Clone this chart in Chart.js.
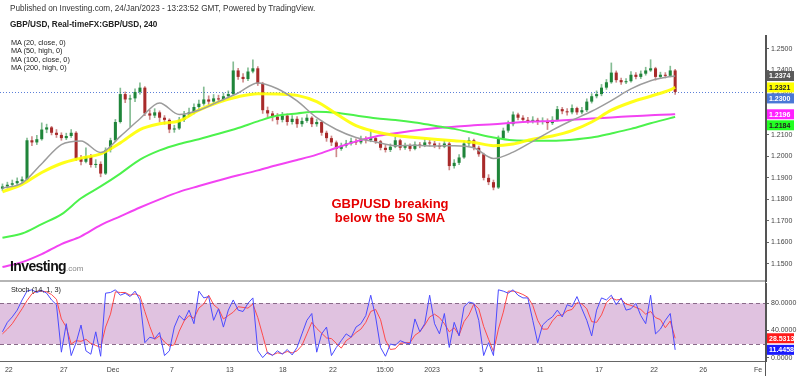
<!DOCTYPE html>
<html>
<head>
<meta charset="utf-8">
<script src="https://cdn.jsdelivr.net/npm/chart.js@4.4.1/dist/chart.umd.min.js"></script>
<style>
  body { margin: 0; width: 800px; height: 376px; position: relative; background: #fff; overflow: hidden;
         font-family: Arial, 'Liberation Sans', sans-serif; }
  .box { position: absolute; left: 0; width: 800px; }
  .txt { position: absolute; white-space: nowrap; z-index: 5; }
</style>
</head>
<body>
<div class="box" style="top:0;height:282px"><canvas id="priceChart"></canvas></div>
<div class="box" style="top:281px;height:95px"><canvas id="stochChart"></canvas></div>
<div style="position:absolute;left:0;top:280px;width:766px;height:2px;background:#b5b5b5;z-index:4"></div>
<div style="position:absolute;left:765px;top:35px;width:1px;height:341px;background:#555;z-index:4"></div>

<div class="txt" style="left:10px;top:4px;font-size:8.2px;color:#333">Published on Investing.com, 24/Jan/2023 - 13:23:52 GMT, Powered by TradingView.</div>
<div class="txt" style="left:10px;top:20px;font-size:8.2px;font-weight:bold;color:#222">GBP/USD, Real-timeFX:GBP/USD, 240</div>
<div class="txt" style="left:11px;top:39px;font-size:7.3px;line-height:8.3px;color:#222">MA (20, close, 0)<br>MA (50, high, 0)<br>MA (100, close, 0)<br>MA (200, high, 0)</div>
<div class="txt" style="left:290px;top:197px;width:200px;text-align:center;font-size:13px;line-height:14px;font-weight:bold;color:#e50000">GBP/USD breaking<br>below the 50 SMA</div>
<div class="txt" style="left:10px;top:258px;font-size:14px;font-weight:bold;letter-spacing:-0.6px;color:#111">Investing<span style="font-size:8px;font-weight:normal;color:#888;letter-spacing:0">.com</span></div>
<div class="txt" style="left:11px;top:285px;font-size:7.3px;color:#222">Stoch (14, 1, 3)</div>

<script>
// 4h candles (bar index 0 .. 137), opens follow the previous close
const firstOpen = 1.1850;
const closes = [
  1.1860, 1.1868, 1.1875, 1.1885, 1.1893, 1.2075, 1.2065, 1.2080, 1.2125, 1.2135,
  1.2110, 1.2100, 1.2085, 1.2095, 1.2110, 1.1990, 1.1975, 1.2000, 1.1960, 1.1965,
  1.1920, 1.2030, 1.2075, 1.2160, 1.2290, 1.2265, 1.2270, 1.2300, 1.2320, 1.2200,
  1.2190, 1.2205, 1.2180, 1.2170, 1.2125, 1.2130, 1.2170, 1.2195, 1.2205, 1.2230,
  1.2245, 1.2265, 1.2255, 1.2270, 1.2265, 1.2280, 1.2290, 1.2400, 1.2370, 1.2360,
  1.2395, 1.2410, 1.2340, 1.2215, 1.2200, 1.2185, 1.2170, 1.2190, 1.2160, 1.2175,
  1.2150, 1.2165, 1.2180, 1.2150, 1.2160, 1.2110, 1.2085, 1.2065, 1.2035, 1.2050,
  1.2060, 1.2070, 1.2065, 1.2080, 1.2075, 1.2085, 1.2070, 1.2040, 1.2030, 1.2045,
  1.2075, 1.2040, 1.2050, 1.2035, 1.2055, 1.2050, 1.2065, 1.2060, 1.2050, 1.2045,
  1.2060, 1.1955, 1.1970, 1.1995, 1.2060, 1.2075, 1.2040, 1.2010, 1.1900, 1.1880,
  1.1855, 1.2085, 1.2120, 1.2150, 1.2195, 1.2180, 1.2170, 1.2165, 1.2170, 1.2160,
  1.2165, 1.2155, 1.2170, 1.2220, 1.2210, 1.2205, 1.2225, 1.2205, 1.2215, 1.2255,
  1.2280, 1.2290, 1.2320, 1.2345, 1.2390, 1.2355, 1.2345, 1.2350, 1.2380, 1.2370,
  1.2385, 1.2400, 1.2410, 1.2370, 1.2380, 1.2375, 1.2400, 1.2300
];
const highs = [
  1.1872, 1.1880, 1.1890, 1.1900, 1.1905, 1.2085, 1.2092, 1.2098, 1.2156, 1.2150,
  1.2140, 1.2125, 1.2110, 1.2108, 1.2125, 1.2115, 1.2005, 1.2040, 1.2010, 1.1985,
  1.1975, 1.2040, 1.2085, 1.2172, 1.2318, 1.2300, 1.2285, 1.2315, 1.2342, 1.2325,
  1.2215, 1.2222, 1.2212, 1.2190, 1.2175, 1.2145, 1.2182, 1.2210, 1.2225, 1.2245,
  1.2262, 1.2323, 1.2282, 1.2288, 1.2285, 1.2295, 1.2305, 1.2440, 1.2410, 1.2385,
  1.2412, 1.2450, 1.2418, 1.2345, 1.2230, 1.2210, 1.2200, 1.2205, 1.2198, 1.2190,
  1.2185, 1.2180, 1.2195, 1.2185, 1.2172, 1.2165, 1.2118, 1.2095, 1.2072, 1.2062,
  1.2075, 1.2085, 1.2082, 1.2095, 1.2092, 1.2123, 1.2092, 1.2075, 1.2052, 1.2058,
  1.2090, 1.2080, 1.2062, 1.2058, 1.2068, 1.2065, 1.2078, 1.2075, 1.2070, 1.2062,
  1.2075, 1.2065, 1.1985, 1.2008, 1.2072, 1.2088, 1.2080, 1.2048, 1.2015, 1.1915,
  1.1890, 1.2095, 1.2132, 1.2165, 1.2207, 1.2202, 1.2190, 1.2182, 1.2185, 1.2178,
  1.2180, 1.2175, 1.2185, 1.2233, 1.2228, 1.2222, 1.2240, 1.2230, 1.2228, 1.2268,
  1.2292, 1.2305, 1.2335, 1.2358, 1.2435, 1.2398, 1.2365, 1.2362, 1.2395, 1.2390,
  1.2398, 1.2415, 1.2450, 1.2415, 1.2392, 1.2390, 1.2420, 1.2405
];
const lows = [
  1.1840, 1.1852, 1.1860, 1.1868, 1.1878, 1.1890, 1.2050, 1.2055, 1.2075, 1.2110,
  1.2100, 1.2088, 1.2075, 1.2078, 1.2088, 1.1980, 1.1960, 1.1970, 1.1950, 1.1948,
  1.1905, 1.1915, 1.2020, 1.2068, 1.2155, 1.2250, 1.2137, 1.2255, 1.2290, 1.2190,
  1.2172, 1.2180, 1.2160, 1.2150, 1.2110, 1.2112, 1.2125, 1.2162, 1.2185, 1.2198,
  1.2220, 1.2238, 1.2240, 1.2245, 1.2250, 1.2258, 1.2270, 1.2285, 1.2358, 1.2345,
  1.2352, 1.2388, 1.2330, 1.2200, 1.2185, 1.2165, 1.2150, 1.2160, 1.2145, 1.2150,
  1.2135, 1.2140, 1.2158, 1.2138, 1.2140, 1.2098, 1.2070, 1.2050, 1.1998, 1.2028,
  1.2042, 1.2052, 1.2055, 1.2058, 1.2062, 1.2068, 1.2060, 1.2030, 1.2020, 1.2022,
  1.2040, 1.2030, 1.2032, 1.2025, 1.2030, 1.2040, 1.2045, 1.2048, 1.2040, 1.2035,
  1.2040, 1.1937, 1.1945, 1.1962, 1.1990, 1.2050, 1.2030, 1.2000, 1.1890, 1.1868,
  1.1844, 1.1850, 1.2078, 1.2112, 1.2142, 1.2170, 1.2158, 1.2155, 1.2155, 1.2148,
  1.2150, 1.2125, 1.2148, 1.2165, 1.2198, 1.2192, 1.2198, 1.2195, 1.2198, 1.2208,
  1.2248, 1.2272, 1.2282, 1.2312, 1.2340, 1.2345, 1.2335, 1.2338, 1.2345, 1.2360,
  1.2362, 1.2378, 1.2395, 1.2355, 1.2362, 1.2365, 1.2370, 1.2288
];

// moving averages, read every 4 bars
const maIndex = [0, 4, 8, 12, 16, 20, 24, 28, 32, 36, 40, 44, 48, 52, 56, 60, 64, 68,
  72, 76, 80, 84, 88, 92, 96, 100, 104, 108, 112, 116, 120, 124, 128, 132, 136, 137];
const ma20 = [1.1852, 1.1876, 1.1966, 1.2055, 1.2072, 1.2018, 1.2093, 1.2175, 1.2249, 1.2195,
  1.2215, 1.2255, 1.2295, 1.2342, 1.2315, 1.2258, 1.2180, 1.2125, 1.2088, 1.2067,
  1.2050, 1.2052, 1.2048, 1.2050, 1.2040, 1.1990, 1.2020, 1.2070, 1.2122, 1.2168,
  1.2210, 1.2260, 1.2314, 1.2352, 1.2372, 1.2374];
const ma50 = [1.1835, 1.1870, 1.1925, 1.1967, 1.1992, 1.2012, 1.2063, 1.2125, 1.2152, 1.2165,
  1.2215, 1.2252, 1.2278, 1.2292, 1.2290, 1.2284, 1.2255, 1.2198, 1.2143, 1.2115,
  1.2097, 1.2088, 1.2080, 1.2073, 1.2065, 1.2050, 1.2058, 1.2080, 1.2095, 1.2120,
  1.2160, 1.2215, 1.2252, 1.2280, 1.2310, 1.2321];
const ma100 = [1.1621, 1.1641, 1.1685, 1.1730, 1.1805, 1.1860, 1.1920, 1.1985, 1.2028, 1.2058,
  1.2080, 1.2105, 1.2132, 1.2163, 1.2190, 1.2200, 1.2208, 1.2203, 1.2190, 1.2177,
  1.2169, 1.2158, 1.2143, 1.2128, 1.2108, 1.2088, 1.2075, 1.2073, 1.2073, 1.2078,
  1.2088, 1.2107, 1.2128, 1.2154, 1.2178, 1.2184];
const ma200 = [1.1485, 1.1508, 1.1545, 1.1592, 1.1628, 1.1680, 1.1721, 1.1762, 1.1800, 1.1835,
  1.1862, 1.1888, 1.1912, 1.1935, 1.1960, 1.1983, 1.2008, 1.2040, 1.2070, 1.2093,
  1.2108, 1.2121, 1.2131, 1.2138, 1.2145, 1.2150, 1.2157, 1.2162, 1.2165, 1.2171,
  1.2176, 1.2181, 1.2187, 1.2192, 1.2195, 1.2196];

// Stochastic (14, 1, 3)
const stochK = [
  38, 52, 60, 70, 85, 98, 100, 96, 99, 95,
  85, 78, 8, 50, 3, 22, 48, 10, 5, 38,
  2, 95, 96, 100, 92, 95, 90, 98, 85, 22,
  30, 28, 37, 3, 10, 45, 62, 55, 70, 50,
  98, 88, 90, 55, 72, 45, 70, 85, 70, 68,
  80, 88, 10, 0, 8, 3, 10, 5, 12, 4,
  15, 35, 55, 65, 8, 35, 45, 3, 15, 25,
  35, 30, 45, 50, 62, 92, 60, 15, 2, 20,
  18, 25, 22, 20, 57, 38, 50, 92, 50, 35,
  65, 15, 52, 32, 75, 82, 80, 55, 3, 22,
  3, 100, 98, 95, 100, 92, 88, 88, 55, 22,
  48, 55, 60, 70, 60, 78, 75, 90, 72, 55,
  32, 70, 88, 85, 92, 78, 88, 70, 72, 80,
  62, 50, 92, 35, 42, 55, 65, 11.4458
];
const stochD = [
  35, 42, 50, 61, 72, 84, 94, 98, 98, 97,
  93, 86, 57, 45, 20, 25, 24, 27, 21, 18,
  15, 45, 64, 97, 96, 96, 92, 94, 91, 68,
  46, 27, 32, 23, 17, 19, 39, 54, 62, 58,
  73, 79, 92, 78, 72, 57, 62, 67, 75, 74,
  73, 79, 59, 33, 6, 4, 7, 6, 9, 7,
  10, 18, 35, 52, 43, 36, 29, 28, 21, 14,
  25, 30, 37, 42, 52, 68, 71, 56, 26, 12,
  13, 21, 22, 22, 33, 38, 48, 60, 64, 59,
  50, 38, 44, 33, 53, 63, 79, 72, 46, 27,
  9, 42, 67, 98, 98, 96, 93, 89, 77, 55,
  42, 42, 54, 62, 63, 69, 71, 81, 79, 72,
  53, 52, 63, 81, 88, 85, 86, 79, 77, 74,
  71, 64, 68, 59, 56, 44, 54, 28.5313
];

// axes
const priceTicks = [1.15, 1.16, 1.17, 1.18, 1.19, 1.20, 1.21, 1.22, 1.23, 1.24, 1.25];
const stochTicks = [0, 40, 80];
const timeTicks = [1.3, 12.5, 22.5, 34.5, 46.3, 57.1, 67.3, 77.9, 87.5, 97.5, 109.5, 121.5, 132.7, 142.7, 153.9];
const timeLabels = ['22', '27', 'Dec', '7', '13', '18', '22', '15:00', '2023', '5', '11', '17', '22', '26', 'Fe'];

const X_MIN = -0.5, X_MAX = 155.5;
const GREEN = '#1f853a', RED = '#a82a2a';
const FONT = "Arial, 'Liberation Sans', sans-serif";

const opens = closes.map((c, i) => i === 0 ? firstOpen : closes[i - 1]);
const bodyColors = closes.map((c, i) => c >= opens[i] ? GREEN : RED);
const wickColors = closes.map((c, i) => c >= opens[i] ? 'rgba(31,133,58,0.55)' : 'rgba(168,42,42,0.55)');
const maPoints = arr => arr.map((v, k) => ({ x: maIndex[k], y: v }));

// colored value boxes on the right axis
function tagPlugin(items) {
  return {
    id: 'tags',
    afterDraw(chart) {
      const { ctx, chartArea, scales: { y } } = chart;
      const list = items.map(t => ({ ...t, py: y.getPixelForValue(t.value) })).sort((a, b) => a.py - b.py);
      let last = -Infinity;
      ctx.save();
      ctx.font = 'bold 7px ' + FONT;
      ctx.textBaseline = 'middle';
      list.forEach(t => {
        const py = Math.max(t.py, last + 11);
        last = py;
        ctx.fillStyle = t.bg;
        ctx.fillRect(chartArea.right + 1, py - 5, 27, 10);
        ctx.fillStyle = t.fg;
        ctx.fillText(t.value.toFixed(4), chartArea.right + 3, py + 0.5);
      });
      ctx.restore();
    }
  };
}

const lastPriceLine = {
  id: 'lastPrice',
  beforeDatasetsDraw(chart) {
    const { ctx, chartArea, scales: { y } } = chart;
    const py = Math.round(y.getPixelForValue(closes[closes.length - 1])) + 0.5;
    ctx.save();
    ctx.strokeStyle = '#5b7fd8';
    ctx.lineWidth = 1;
    ctx.setLineDash([1, 2]);
    ctx.beginPath();
    ctx.moveTo(chartArea.left, py);
    ctx.lineTo(chartArea.right, py);
    ctx.stroke();
    ctx.restore();
  }
};

const stochBand = {
  id: 'band',
  beforeDatasetsDraw(chart) {
    const { ctx, chartArea, scales: { y } } = chart;
    const top = y.getPixelForValue(80), bot = y.getPixelForValue(20);
    ctx.save();
    ctx.fillStyle = '#e0c2e0';
    ctx.fillRect(chartArea.left, top, chartArea.right - chartArea.left, bot - top);
    ctx.strokeStyle = '#8a6a8a';
    ctx.setLineDash([4, 3]);
    [top, bot].forEach(py => {
      ctx.beginPath();
      ctx.moveTo(chartArea.left, Math.round(py) + 0.5);
      ctx.lineTo(chartArea.right, Math.round(py) + 0.5);
      ctx.stroke();
    });
    ctx.restore();
  }
};

// no extra room for half tick labels at the ends of an axis
function noEdgePadding(s) {
  s.paddingTop = 0; s.paddingBottom = 0; s.paddingLeft = 0; s.paddingRight = 0;
}

function rightAxis(ticks, fmt) {
  return {
    position: 'right',
    afterFit: s => { s.width = 34; noEdgePadding(s); },
    afterBuildTicks: s => { s.ticks = ticks.map(v => ({ value: v })); },
    grid: { display: true, drawOnChartArea: false, drawTicks: true, tickLength: 3, tickColor: '#666' },
    border: { display: true, color: '#555' },
    ticks: { font: { family: FONT, size: 7 }, color: '#444', padding: 2, callback: fmt }
  };
}

new Chart(document.getElementById('priceChart'), {
  type: 'bar',
  data: {
    datasets: [
      { type: 'line', data: maPoints(ma20), borderColor: '#9c9c9c', borderWidth: 1.5, pointRadius: 0, cubicInterpolationMode: 'monotone', order: 1 },
      { type: 'line', data: maPoints(ma50), borderColor: 'rgba(255,255,0,0.9)', borderWidth: 3, pointRadius: 0, cubicInterpolationMode: 'monotone', order: 2 },
      { type: 'line', data: maPoints(ma100), borderColor: '#4cf24c', borderWidth: 2, pointRadius: 0, cubicInterpolationMode: 'monotone', order: 3 },
      { type: 'line', data: maPoints(ma200), borderColor: '#f243f2', borderWidth: 2, pointRadius: 0, cubicInterpolationMode: 'monotone', order: 4 },
      { data: closes.map((c, i) => ({ x: i, y: [opens[i], c] })), backgroundColor: bodyColors,
        grouped: false, categoryPercentage: 1, barPercentage: 0.62, minBarLength: 1, order: 5 },
      { data: closes.map((c, i) => ({ x: i, y: [lows[i], highs[i]] })), backgroundColor: wickColors,
        grouped: false, categoryPercentage: 1, barPercentage: 1, maxBarThickness: 1, order: 6 }
    ]
  },
  options: {
    responsive: true, maintainAspectRatio: false, animation: false, events: [],
    layout: { padding: { top: 35, left: 0, right: 0, bottom: 1 } },
    plugins: { legend: { display: false }, tooltip: { enabled: false } },
    scales: {
      x: { type: 'linear', min: X_MIN, max: X_MAX, offset: false, display: false },
      y: { ...rightAxis(priceTicks, v => v.toFixed(4)), min: 1.1420, max: 1.2565 }
    }
  },
  plugins: [lastPriceLine, tagPlugin([
    { value: ma20[ma20.length - 1], bg: '#5a5a5a', fg: '#fff' },
    { value: ma50[ma50.length - 1], bg: '#ffff00', fg: '#222' },
    { value: closes[closes.length - 1], bg: '#4a78d6', fg: '#fff' },
    { value: ma200[ma200.length - 1], bg: '#ff22ff', fg: '#fff' },
    { value: ma100[ma100.length - 1], bg: '#22ff22', fg: '#222' }
  ])]
});

new Chart(document.getElementById('stochChart'), {
  type: 'line',
  data: {
    datasets: [
      { data: stochK.map((v, i) => ({ x: i, y: v })), borderColor: '#4b4bff', borderWidth: 1, pointRadius: 0 },
      { data: stochD.map((v, i) => ({ x: i, y: v })), borderColor: '#ff4b4b', borderWidth: 1, pointRadius: 0 }
    ]
  },
  options: {
    responsive: true, maintainAspectRatio: false, animation: false, events: [],
    layout: { padding: { top: 2, left: 0, right: 0, bottom: 0 } },
    plugins: { legend: { display: false }, tooltip: { enabled: false } },
    scales: {
      x: {
        type: 'linear', min: X_MIN, max: X_MAX, offset: false,
        afterFit: s => { s.height = 15; noEdgePadding(s); },
        afterBuildTicks: s => { s.ticks = timeTicks.map(v => ({ value: v })); },
        grid: { display: false, drawTicks: false, tickLength: 0 },
        border: { display: true, color: '#666' },
        ticks: { autoSkip: false, maxRotation: 0, padding: 5, font: { family: FONT, size: 7 }, color: '#444',
                 callback: (v, i) => timeLabels[i] }
      },
      y: { ...rightAxis(stochTicks, v => v.toFixed(4)), min: -5, max: 110 }
    }
  },
  plugins: [stochBand, tagPlugin([
    { value: stochD[stochD.length - 1], bg: '#ff1a1a', fg: '#fff' },
    { value: stochK[stochK.length - 1], bg: '#1a1aff', fg: '#fff' }
  ])]
});
</script>
</body>
</html>
